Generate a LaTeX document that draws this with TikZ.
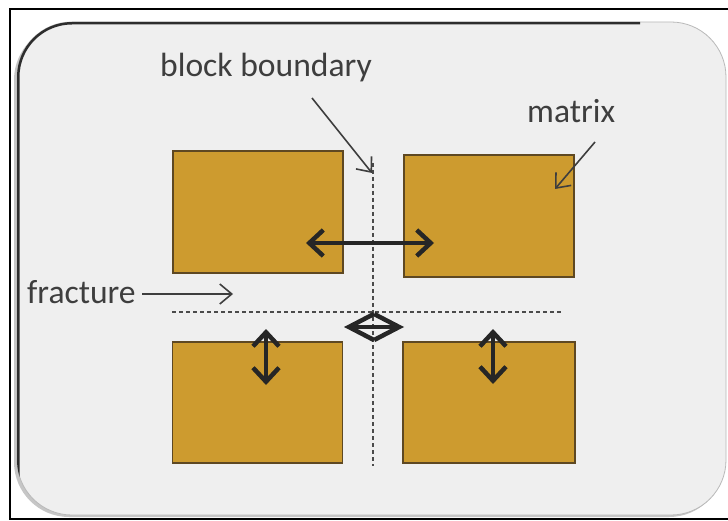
\documentclass[tikz,border=0pt]{standalone}
\usepackage{fontspec}
\setmainfont{Carlito}
\usetikzlibrary{arrows.meta}
\definecolor{panel}{HTML}{EFEFEF}
\definecolor{blockfill}{HTML}{CD9B2F}
\definecolor{blockedge}{HTML}{5E4822}
\definecolor{arrowdark}{HTML}{262626}
\definecolor{labelgray}{HTML}{3E3E3E}
\definecolor{dashgray}{HTML}{4A4A4A}
\tikzset{
  blockbox/.style={draw=blockedge, line width=1.8pt, fill=blockfill, inner sep=0pt, outer sep=0pt},
  lbl/.style={font=\fontsize{33.6}{38}\selectfont, text=labelgray, inner sep=0pt, anchor=base west},
  pointer/.style={draw=labelgray, line width=1.6pt, -{Straight Barb[length=12pt,width=20pt,line width=1.6pt]}},
  flow/.style={draw=arrowdark, line width=4.5pt, {Straight Barb[length=14pt,width=26pt,line width=4.5pt]}-{Straight Barb[length=14pt,width=26pt,line width=4.5pt]}},
  flowshort/.style={draw=arrowdark, line width=4.5pt, {Straight Barb[length=25pt,width=26pt,line width=4.5pt]}-{Straight Barb[length=25pt,width=26pt,line width=4.5pt]}},
  boundary/.style={draw=dashgray, line width=2.8pt, dash pattern=on 4pt off 3pt}
}
\begin{document}
\begin{tikzpicture}[x=1pt,y=-1pt]
\useasboundingbox (0,0) rectangle (728,521);
\fill[white] (0,0) rectangle (728,521);
% outer frame
\draw[black, line width=2pt] (10,9) rectangle (732,519);
% panel with soft shadow
\fill[gray!45, rounded corners=55pt] (14,25) rectangle (724,517);
\draw[fill=panel, draw=gray!55, line width=0.8pt, rounded corners=55pt] (17,22) rectangle (726,515);
\begin{scope}
  \clip[rounded corners=55pt] (17,22) rectangle (726,515);
  \draw[gray!35!black, line width=5pt, rounded corners=55pt] (17,480) -- (17,22) -- (640,22);
\end{scope}
% blocks
\node[blockbox, minimum width=170pt, minimum height=122pt] (tl) at (258,212) {};
\node[blockbox, minimum width=170pt, minimum height=122pt] (tr) at (489,216) {};
\node[blockbox, minimum width=170pt, minimum height=121pt] (bl) at (257.5,402.5) {};
\node[blockbox, minimum width=172pt, minimum height=121pt] (br) at (489,402.5) {};
% boundaries
\coordinate (vtop) at (373,163);
\coordinate (vbot) at (373,466);
\coordinate (hleft) at (172,312);
\coordinate (hright) at (562,312);
\draw[boundary] (vtop) -- (vbot);
\draw[boundary] (hleft) -- (hright);
% labels
\node[lbl] (bb) at (160,77) {block boundary};
\node[lbl] (mx) at (527,123) {matrix};
\node[lbl] (fr) at (27,303) {fracture};
% pointers
\coordinate (bbs) at (312,98);
\coordinate (bbe) at (372,173);
\coordinate (mxs) at (595,142);
\coordinate (mxe) at (555,189);
\coordinate (frs) at (142,294);
\coordinate (fre) at (233,294);
\draw[pointer] (bbs) -- (bbe);
\draw[pointer] (mxs) -- (mxe);
\draw[pointer] (frs) -- (fre);
% flow arrows
\coordinate (h1) at (306,243);
\coordinate (h2) at (434,243);
\coordinate (c1) at (344,327);
\coordinate (c2) at (404,327);
\coordinate (l1) at (266,329);
\coordinate (l2) at (266,385);
\coordinate (r1) at (493,329);
\coordinate (r2) at (493,384);
\draw[flow] (h1) -- (h2);
\draw[flowshort] (c1) -- (c2);
\draw[flow] (l1) -- (l2);
\draw[flow] (r1) -- (r2);
\end{tikzpicture}
\end{document}
